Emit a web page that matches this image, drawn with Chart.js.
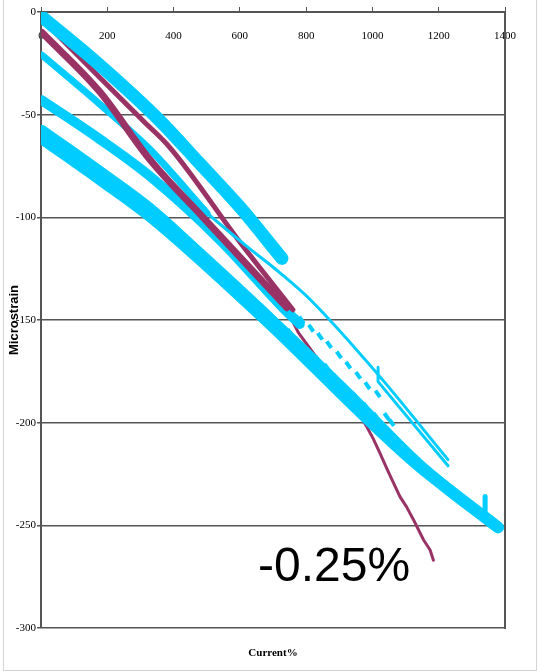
<!DOCTYPE html>
<html>
<head>
<meta charset="utf-8">
<script src="https://cdn.jsdelivr.net/npm/chart.js@4/dist/chart.umd.min.js"></script>
<style>
  html, body { margin: 0; padding: 0; background: #fff; }
  #wrap { position: relative; width: 539px; height: 671px; overflow: hidden; }
  #frame { position: absolute; left: 3px; top: -2px; width: 534px; height: 673px;
           border: 1px solid #d4d4d4; box-sizing: border-box; }
  canvas { position: absolute; left: 0; top: 0; }
  #note { position: absolute; left: 258px; top: 537px; line-height: 48px;
          font: 48px "Liberation Sans", Arial, sans-serif; color: #000; white-space: nowrap; }
</style>
</head>
<body>
<div id="wrap">
  <div id="frame"></div>
  <canvas id="c" width="539" height="671"></canvas>
  <div id="note">-0.25%</div>
</div>
<script>
// Axis ticks
const xTicks = [0, 200, 400, 600, 800, 1000, 1200, 1400];
const yTicks = [0, -50, -100, -150, -200, -250, -300];

// Loading runs (current %, microstrain)
const runA_x = [0, 178, 359, 480, 600, 727];
const runA_y = [-2, -26, -53, -74, -95, -120];

const runB_x = [3, 178, 329, 501];
const runB_y = [-21, -45, -67, -98];

const runThin_x = [501, 620, 721, 812, 1014, 1228];
const runThin_y = [-98, -114, -127, -140, -176, -218];

const runHook_x = [1017, 1017, 1228];
const runHook_y = [-173, -180, -221];

const runC_x = [3, 178, 329, 540, 730, 781];
const runC_y = [-43, -62, -80, -111, -144, -152];

const runD_x = [3, 178, 329, 480, 661, 932, 1143, 1379];
const runD_y = [-58, -78, -96, -118, -145, -187, -221, -251];

const runE_x = [3, 178, 329, 661, 1143, 1334];
const runE_y = [-63, -83, -101, -149, -223, -245];

const runSpike_x = [1340, 1340];
const runSpike_y = [-236, -246];

const dotsUp_x = [786, 815, 842, 869, 899, 927, 957, 985, 1016];
const dotsUp_y = [-150, -154, -158, -162, -167, -172, -177, -182, -186];

const dotsLo_x = [751, 779, 806, 834, 862, 889, 920, 947, 980, 1011, 1043, 1058];
const dotsLo_y = [-156, -161, -166, -169, -173, -178, -183, -187, -192, -197, -197, -200];

// Reference runs
const refMB_x = [6, 178, 308, 389, 600, 760];
const refMB_y = [-4, -32, -53, -66, -112, -145];

const refMA_x = [3, 178, 329, 489, 742];
const refMA_y = [-10, -39, -72, -100, -144];

const refTail_x = [706, 751, 776, 812, 852, 892, 922, 952, 983, 1003, 1023, 1048, 1083, 1103, 1123, 1154, 1174, 1184];
const refTail_y = [-140, -148, -156, -164, -173, -183, -189, -194, -202, -208, -215, -224, -236, -241, -247, -257, -262, -267];

const CYAN = '#00CCFF';
const MAROON = '#993366';

const pts = (xs, ys) => xs.map((x, i) => ({ x, y: ys[i] }));
const line = (label, xs, ys, color, width, smooth = true) => ({
  label, data: pts(xs, ys), borderColor: color, backgroundColor: color,
  borderWidth: width, pointRadius: 0, fill: false,
  cubicInterpolationMode: smooth ? 'monotone' : 'default', tension: 0,
  borderCapStyle: 'round', borderJoinStyle: 'round'
});
const dots = (label, xs, ys) => ({
  label, data: pts(xs, ys), showLine: false, borderColor: CYAN, backgroundColor: CYAN,
  pointStyle: 'line', pointRadius: 4, pointBorderWidth: 4, pointRotation: 55
});

const tickFont = { family: '"Liberation Serif", serif', size: 11 };

new Chart(document.getElementById('c'), {
  type: 'line',
  data: {
    // earlier entries are painted on top
    datasets: [
      line('A', runA_x, runA_y, CYAN, 13),
      line('Thin', runThin_x, runThin_y, CYAN, 3),
      line('Hook', runHook_x, runHook_y, CYAN, 3, false),
      line('MB', refMB_x, refMB_y, MAROON, 5),
      line('MA', refMA_x, refMA_y, MAROON, 7),
      line('B', runB_x, runB_y, CYAN, 7),
      line('C', runC_x, runC_y, CYAN, 10),
      line('D', runD_x, runD_y, CYAN, 12),
      line('E', runE_x, runE_y, CYAN, 7),
      line('Spike', runSpike_x, runSpike_y, CYAN, 5, false),
      dots('DotsUp', dotsUp_x, dotsUp_y),
      dots('DotsLo', dotsLo_x, dotsLo_y),
      line('Tail', refTail_x, refTail_y, MAROON, 3, false)
    ]
  },
  options: {
    responsive: false,
    animation: false,
    devicePixelRatio: 1,
    layout: { padding: 0 },
    plugins: { legend: { display: false }, tooltip: { enabled: false } },
    scales: {
      x: {
        type: 'linear', position: 'top', min: 0, max: 1400,
        afterBuildTicks: s => { s.ticks = xTicks.map(v => ({ value: v })); },
        // labels sit just below the axis line, inside the plot
        ticks: { mirror: true, padding: 18, font: tickFont, color: '#000', maxRotation: 0,
                 autoSkip: false, callback: v => String(v) },
        grid: { drawOnChartArea: false, tickLength: 5, color: '#555' },
        border: { color: '#555', width: 2 },
        afterFit: s => { s.height = 12; }
      },
      xt: {
        type: 'linear', position: 'bottom',
        ticks: { display: false },
        grid: { display: false, drawTicks: false },
        border: { display: false },
        title: { display: true, text: 'Current%', color: '#000',
                 font: { family: '"Liberation Serif", serif', size: 11, weight: 'bold' },
                 padding: { top: 0, bottom: 11 } },
        afterFit: s => { s.height = 43; }
      },
      y: {
        type: 'linear', position: 'left', min: -300, max: 0,
        afterBuildTicks: s => { s.ticks = yTicks.map(v => ({ value: v })); },
        ticks: { padding: 1, font: tickFont, color: '#000', callback: v => String(v) },
        grid: { color: '#555', lineWidth: 1.5, tickLength: 4 },
        border: { color: '#555', width: 2 },
        title: { display: true, text: 'Microstrain', color: '#000',
                 font: { family: '"Liberation Sans", Arial, sans-serif', size: 13, weight: 'bold' },
                 padding: { top: 7, bottom: 0 } },
        afterFit: s => { s.width = 41; }
      },
      yr: {
        type: 'linear', position: 'right', min: -300, max: 0,
        ticks: { display: false },
        grid: { drawOnChartArea: false, drawTicks: false },
        border: { color: '#555', width: 2 },
        afterFit: s => { s.width = 34; }
      }
    }
  }
});
</script>
</body>
</html>
